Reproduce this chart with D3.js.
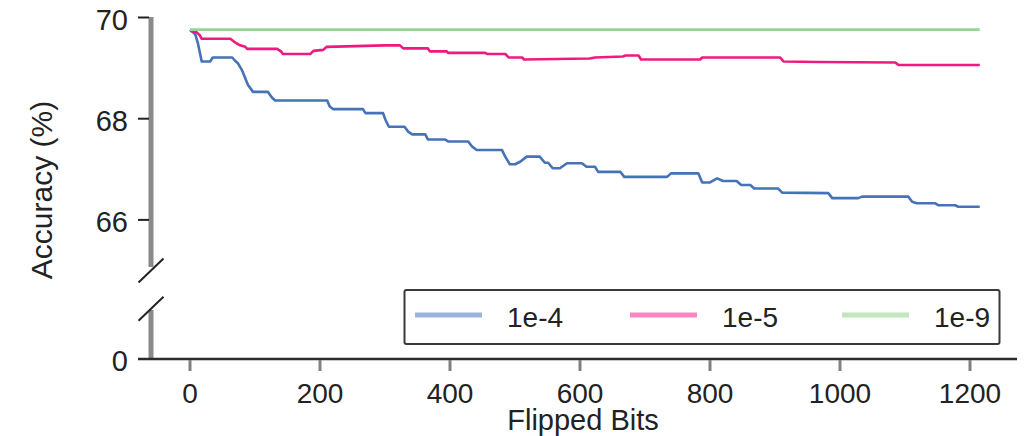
<!DOCTYPE html>
<html>
<head>
<meta charset="utf-8">
<script src="https://cdn.jsdelivr.net/npm/d3@7"></script>
<style>
  body { margin: 0; background: #fff; }
  svg text { font-family: "Liberation Sans", Arial, sans-serif; fill: #222; }
</style>
</head>
<body>
<svg id="chart" width="1031" height="436"></svg>
<script>
// data
const seriesNames = ["1e-4", "1e-5", "1e-9"];
const colors = ["#4672b8", "#ee1a80", "#98d494"];
const legendColors = ["#9bb4da", "#f886c0", "#c2e6be"];

const bitsA = [0, 8, 12, 15, 18, 31, 35, 65, 69, 74, 80, 85, 89, 97, 120, 126, 131, 211, 215, 220, 266, 270, 297, 301, 306, 330, 336, 342, 362, 366, 392, 397, 428, 434, 441, 480, 485, 492, 500, 508, 518, 538, 546, 551, 558, 569, 580, 603, 610, 623, 628, 662, 668, 734, 740, 782, 788, 800, 811, 820, 841, 848, 862, 868, 905, 911, 982, 988, 1028, 1034, 1105, 1111, 1118, 1146, 1151, 1177, 1182, 1215];
const acc1e4 = [69.76, 69.67, 69.50, 69.32, 69.13, 69.13, 69.21, 69.21, 69.15, 69.09, 68.96, 68.80, 68.67, 68.53, 68.53, 68.42, 68.36, 68.36, 68.24, 68.19, 68.19, 68.11, 68.11, 67.97, 67.84, 67.84, 67.74, 67.69, 67.69, 67.59, 67.59, 67.55, 67.55, 67.45, 67.38, 67.38, 67.25, 67.10, 67.10, 67.15, 67.25, 67.25, 67.13, 67.13, 67.02, 67.02, 67.12, 67.12, 67.05, 67.05, 66.95, 66.95, 66.85, 66.85, 66.92, 66.92, 66.74, 66.74, 66.82, 66.77, 66.77, 66.69, 66.69, 66.62, 66.62, 66.54, 66.53, 66.43, 66.43, 66.46, 66.46, 66.36, 66.33, 66.33, 66.29, 66.29, 66.26, 66.26];

const bitsB = [0, 10, 15, 18, 62, 68, 77, 85, 88, 134, 140, 143, 185, 190, 205, 210, 300, 323, 328, 366, 369, 395, 397, 454, 457, 485, 490, 511, 514, 615, 623, 666, 670, 690, 694, 785, 788, 908, 913, 966, 1085, 1090, 1215];
const acc1e5 = [69.74, 69.71, 69.65, 69.58, 69.58, 69.52, 69.45, 69.42, 69.38, 69.38, 69.33, 69.28, 69.28, 69.34, 69.36, 69.42, 69.45, 69.45, 69.39, 69.39, 69.33, 69.33, 69.30, 69.30, 69.28, 69.28, 69.21, 69.21, 69.17, 69.19, 69.21, 69.23, 69.25, 69.25, 69.17, 69.17, 69.21, 69.21, 69.13, 69.12, 69.11, 69.06, 69.06];

const bitsC = [0, 1215];
const acc1e9 = [69.76, 69.76];

const xTicks = [0, 200, 400, 600, 800, 1000, 1200];
const yTicksTop = [66, 68, 70];
const yTicksBottom = [0];

const series = [
  { name: seriesNames[0], pts: bitsA.map((b, i) => [b, acc1e4[i]]) },
  { name: seriesNames[1], pts: bitsB.map((b, i) => [b, acc1e5[i]]) },
  { name: seriesNames[2], pts: bitsC.map((b, i) => [b, acc1e9[i]]) }
];

const svg = d3.select("#chart");

const x = d3.scaleLinear().domain([0, 1200]).range([190, 970]);
const yTop = d3.scaleLinear().domain([65, 70]).range([270.5, 17.5]);
const yBot = d3.scaleLinear().domain([0, 1]).range([359, 308.7]);
const axisX = 151;

// y axis spines (broken)
svg.append("line")
  .attr("x1", axisX).attr("x2", axisX)
  .attr("y1", yTop(70) - 0.5).attr("y2", 267)
  .attr("stroke", "#8a8a8a").attr("stroke-width", 5);
svg.append("line")
  .attr("x1", axisX).attr("x2", axisX)
  .attr("y1", 310).attr("y2", yBot(0))
  .attr("stroke", "#8a8a8a").attr("stroke-width", 5);

// break marks
[yTop(65), yBot(1)].forEach(cy => {
  svg.append("line")
    .attr("x1", axisX - 12.5).attr("y1", cy + 12)
    .attr("x2", axisX + 12.5).attr("y2", cy - 12)
    .attr("stroke", "#222").attr("stroke-width", 2);
});

// y ticks + labels
const yTickData = yTicksTop.map(v => ({ v, y: yTop(v) }))
  .concat(yTicksBottom.map(v => ({ v, y: yBot(v) })));
svg.selectAll(".ytick")
  .data(yTickData)
  .enter().append("line")
    .attr("x1", 138).attr("x2", 149)
    .attr("y1", d => d.y).attr("y2", d => d.y)
    .attr("stroke", "#222").attr("stroke-width", 2);
svg.selectAll(".ylab")
  .data(yTickData)
  .enter().append("text")
    .attr("x", 128)
    .attr("y", d => d.y + 12)
    .style("text-anchor", "end")
    .style("font-size", "29px")
    .text(d => d.v);

// x axis
svg.append("line")
  .attr("x1", 138).attr("x2", 1017)
  .attr("y1", 359).attr("y2", 359)
  .attr("stroke", "#2b2b2b").attr("stroke-width", 2.5);
svg.selectAll(".xtick")
  .data(xTicks)
  .enter().append("line")
    .attr("x1", d => x(d)).attr("x2", d => x(d))
    .attr("y1", 360).attr("y2", 371)
    .attr("stroke", "#808080").attr("stroke-width", 3);
svg.selectAll(".xlab")
  .data(xTicks)
  .enter().append("text")
    .attr("x", d => x(d))
    .attr("y", 403)
    .style("text-anchor", "middle")
    .style("font-size", "28px")
    .text(d => d);

svg.append("text")
  .attr("x", 583).attr("y", 430)
  .style("text-anchor", "middle")
  .style("font-size", "29px")
  .text("Flipped Bits");
svg.append("text")
  .attr("transform", "translate(52,190) rotate(-90)")
  .style("text-anchor", "middle")
  .style("font-size", "30px")
  .text("Accuracy (%)");

// lines
const line = d3.line().x(d => x(d[0])).y(d => yTop(d[1]));
svg.selectAll(".series")
  .data(series)
  .enter().append("path")
    .attr("d", d => line(d.pts))
    .attr("fill", "none")
    .attr("stroke", (d, i) => colors[i])
    .attr("stroke-width", 2.6)
    .attr("stroke-linejoin", "round");

// legend
const lg = svg.append("g");
lg.append("rect")
  .attr("x", 404.5).attr("y", 290)
  .attr("width", 595).attr("height", 54)
  .attr("rx", 2)
  .attr("fill", "#fff")
  .attr("stroke", "#3a3a3a").attr("stroke-width", 2);
const legendX = [415, 630, 842];
seriesNames.forEach((n, i) => {
  lg.append("line")
    .attr("x1", legendX[i]).attr("x2", legendX[i] + 67)
    .attr("y1", 315).attr("y2", 315)
    .attr("stroke", legendColors[i]).attr("stroke-width", 5);
  lg.append("text")
    .attr("x", legendX[i] + 92).attr("y", 327)
    .style("font-size", "28px")
    .text(n);
});
</script>
</body>
</html>
